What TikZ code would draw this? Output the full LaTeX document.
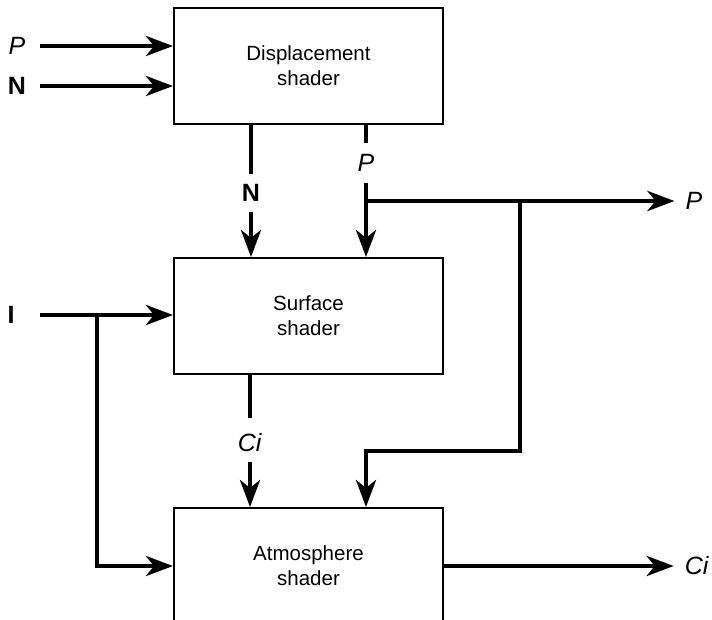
\documentclass[tikz,border=0pt]{standalone}
\usepackage{fontspec}
\setmainfont{Liberation Sans}
\usetikzlibrary{arrows.meta}
\begin{document}
\begin{tikzpicture}[x=1pt,y=-1pt,
  shader/.style={draw, line width=2pt, minimum width=269pt, minimum height=116pt,
    inner sep=0pt, align=center, font=\fontsize{20.5}{25}\selectfont},
  lbl/.style={inner sep=0pt, font=\fontsize{25}{29}\selectfont},
  wire/.style={line width=4.5pt},
  flow/.style={wire, -{Stealth[length=27pt,width=20pt,inset=8pt]}}]
\useasboundingbox (0,0) rectangle (712,619);
\clip (0,0) rectangle (712,619);

% shader stages
\node[shader] (disp) at (308.5,66)  {Displacement\\shader};
\node[shader] (surf) at (308.5,316) {Surface\\shader};
\node[shader] (atm)  at (308.5,566) {Atmosphere\\shader};

% variable labels
\node[lbl] (Pin)   at (17,46)  {\textit{P}};
\node[lbl] (Nin)   at (17,86)  {\textbf{N}};
\node[lbl] (Iin)   at (11,315) {\textbf{I}};
\node[lbl] (Nmid)  at (251,193) {\textbf{N}};
\node[lbl] (Pmid)  at (366,163) {\textit{P}};
\node[lbl] (Cimid) at (250,443) {\textit{Ci}};
\node[lbl] (Pout)  at (694,201) {\textit{P}};
\node[lbl] (Ciout) at (697,566) {\textit{Ci}};

% free ends and junctions
\coordinate (ps) at (40,46);
\coordinate (ns) at (40,86);
\coordinate (is) at (40,315);
\coordinate (ij) at (97,315);
\coordinate (fb) at (520,201);
\coordinate (fc) at (520,451);

% inputs to the displacement shader
\draw[flow] (ps) -- (ps -| disp.west);
\draw[flow] (ns) -- (ns -| disp.west);

% displacement -> surface
\draw[wire] (disp.south -| Nmid) -- ([yshift=10pt]Nmid.north);
\draw[flow] ([yshift=-10pt]Nmid.south) -- (surf.north -| Nmid);
\draw[wire] (disp.south -| Pmid) -- ([yshift=11pt]Pmid.north);
\draw[flow] ([yshift=-11pt]Pmid.south) -- (surf.north -| Pmid);

% P output and feedback into the atmosphere shader
\draw[flow] (Pmid |- Pout) -- ([xshift=-11pt]Pout.west);
\draw[flow] (fb) -- (fc) -- (fc -| Pmid) -- (atm.north -| Pmid);

% incident light
\draw[flow] (is) -- (is -| surf.west);
\draw[flow] (ij) |- (atm.west);

% surface -> atmosphere
\draw[wire] (surf.south -| Cimid) -- ([yshift=16pt]Cimid.north);
\draw[flow] ([yshift=-10pt]Cimid.south) -- (atm.north -| Cimid);

% final colour
\draw[flow] (atm.east) -- ([xshift=-11pt]Ciout.west);
\end{tikzpicture}
\end{document}
